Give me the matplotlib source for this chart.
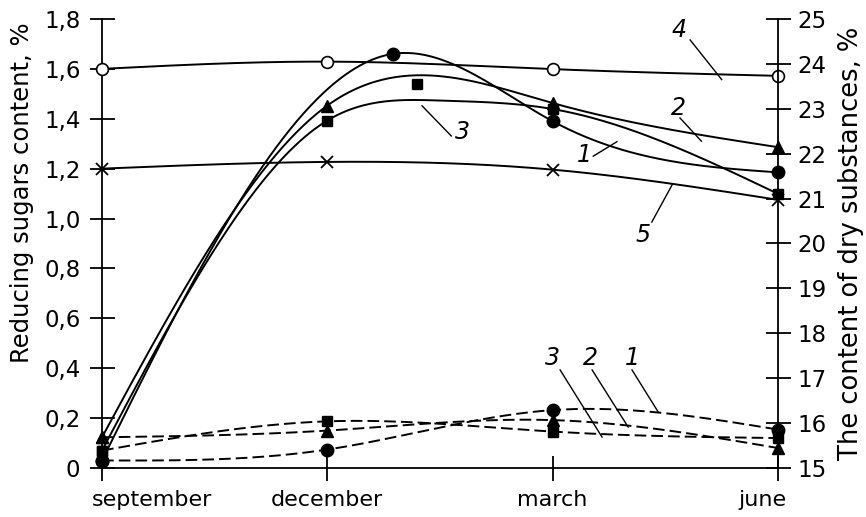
import numpy as np
import matplotlib
matplotlib.use("Agg")
import matplotlib.pyplot as plt
from matplotlib.transforms import offset_copy


# ---------------- DATA ----------------
months = ["september", "december", "march", "june"]
month_pos = [0, 1, 2, 3]

# solid curves (1, 2, 3): position in months, value on the left scale
solid1_x = [0, 1.29, 2, 3]
solid1_y = [0.03, 1.66, 1.39, 1.185]
solid2_x = [0, 1, 1.35, 2, 3]
solid2_y = [0.123, 1.453, 1.572, 1.463, 1.286]
solid2_mark = [True, True, False, True, True]
solid3_x = [0, 1, 1.5, 2, 3]
solid3_y = [0.07, 1.393, 1.473, 1.439, 1.099]
solid3_mark = [True, True, False, True, True]
extra_square_x = [1.40]
extra_square_y = [1.539]

# curves 4 and 5
curve4_y = [1.60, 1.629, 1.599, 1.572]
curve5_y = [1.20, 1.227, 1.196, 1.075]

# dashed curves (1, 2, 3)
dash1_y = [0.030, 0.074, 0.232, 0.154]
dash2_y = [0.123, 0.150, 0.192, 0.080]
dash3_y = [0.070, 0.187, 0.146, 0.120]

left_ticks = [0, 0.2, 0.4, 0.6, 0.8, 1.0, 1.2, 1.4, 1.6, 1.8]
left_labels = ["0", "0,2", "0,4", "0,6", "0,8", "1,0", "1,2", "1,4", "1,6", "1,8"]
right_ticks = list(range(15, 26))

# curve numbers: (text, text x, text y, leader start, leader end)
labels = [
    ("4", 2.56, 1.756, (2.61, 1.716), (2.75, 1.557)),
    ("2", 2.56, 1.443, (2.565, 1.403), (2.66, 1.31)),
    ("1", 2.14, 1.255, (2.18, 1.25), (2.285, 1.308)),
    ("5", 2.40, 0.934, (2.44, 0.986), (2.53, 1.135)),
    ("3", 1.60, 1.345, (1.42, 1.452), (1.55, 1.331)),
    ("3", 2.00, 0.441, (2.033, 0.393), (2.219, 0.124)),
    ("2", 2.166, 0.441, (2.175, 0.393), (2.335, 0.164)),
    ("1", 2.352, 0.441, (2.352, 0.393), (2.468, 0.225)),
]


# ---------------- SMOOTH LINE THROUGH POINTS ----------------
def spline(xs, ys, num=300):
    xs = np.asarray(xs, float)
    ys = np.asarray(ys, float)
    n = len(xs)
    h = np.diff(xs)
    A = np.zeros((n, n))
    b = np.zeros(n)
    A[0, 0] = A[-1, -1] = 1
    for i in range(1, n - 1):
        A[i, i - 1] = h[i - 1]
        A[i, i] = 2 * (h[i - 1] + h[i])
        A[i, i + 1] = h[i]
        b[i] = 6 * ((ys[i + 1] - ys[i]) / h[i] - (ys[i] - ys[i - 1]) / h[i - 1])
    M = np.linalg.solve(A, b)
    xx = np.linspace(xs[0], xs[-1], num)
    k = np.clip(np.searchsorted(xs, xx) - 1, 0, n - 2)
    hh = xs[k + 1] - xs[k]
    t0 = xs[k + 1] - xx
    t1 = xx - xs[k]
    yy = (M[k] * t0 ** 3 + M[k + 1] * t1 ** 3) / (6 * hh) \
        + (ys[k] / hh - M[k] * hh / 6) * t0 + (ys[k + 1] / hh - M[k + 1] * hh / 6) * t1
    return xx, yy


# ---------------- FIGURE ----------------
plt.rcParams["font.family"] = ["DejaVu Sans"]
plt.rcParams["font.size"] = 16

fig = plt.figure(figsize=(8.66, 5.17), dpi=100)
ax = fig.add_axes([0.1178, 0.0948, 0.7806, 0.8685])
ax2 = ax.twinx()

LW = 1.4
dash = (0, (6, 2.6))

def line(xs, ys, style="-"):
    sx, sy = spline(xs, ys)
    ax.plot(sx, sy, color="black", lw=LW, linestyle=style, clip_on=False, zorder=3)

def keep(vals, marks):
    return [v for v, m in zip(vals, marks) if m]

# solid curves
line(solid1_x, solid1_y)
line(solid2_x, solid2_y)
line(solid3_x, solid3_y)
line(month_pos, curve4_y)
line(month_pos, curve5_y)

# dashed curves
line(month_pos, dash1_y, dash)
line(month_pos, dash2_y, dash)
line(month_pos, dash3_y, dash)

# markers
mk = dict(color="black", linestyle="none", clip_on=False, zorder=4)
ax.plot(solid1_x, solid1_y, marker="o", ms=9, **mk)
ax.plot(keep(solid2_x, solid2_mark), keep(solid2_y, solid2_mark), marker="^", ms=8, **mk)
ax.plot(keep(solid3_x, solid3_mark), keep(solid3_y, solid3_mark), marker="s", ms=7.5, **mk)
ax.plot(extra_square_x, extra_square_y, marker="s", ms=7.5, **mk)
ax.plot(month_pos, curve4_y, marker="o", ms=8.5, mfc="white", mew=1.2, **mk)
ax.plot(month_pos, curve5_y, marker="x", ms=9, mew=1.3, **mk)
ax.plot(month_pos, dash1_y, marker="o", ms=9, **mk)
ax.plot(month_pos, dash2_y, marker="^", ms=8, **mk)
ax.plot(month_pos, dash3_y, marker="s", ms=7.5, **mk)

# curve numbers with leader lines
for txt, tx, ty, p0, p1 in labels:
    ax.plot([p0[0], p1[0]], [p0[1], p1[1]], color="black", lw=1.0, zorder=2)
    ax.text(tx, ty, txt, style="italic", fontsize=17, ha="center", va="center")

# ---------------- AXES ----------------
ax.set_xlim(0, 3)
ax.set_ylim(0, 1.8)
ax2.set_ylim(15, 25)

ax.set_xticks(month_pos)
ax.set_xticklabels(months)
ax.set_yticks(left_ticks)
ax.set_yticklabels(left_labels)
ax2.set_yticks(right_ticks)

for a in (ax, ax2):
    a.spines["top"].set_visible(False)
    for s in a.spines.values():
        s.set_linewidth(1.3)
ax2.spines["left"].set_visible(False)
ax2.spines["bottom"].set_visible(False)
ax.spines["right"].set_visible(False)

ax.tick_params(axis="y", direction="inout", length=18, width=1.3, pad=6.5, labelsize=16.5)
ax.tick_params(axis="x", direction="inout", length=18, width=1.3, pad=7, labelsize=16)
ax2.tick_params(axis="y", direction="inout", length=18, width=1.3, pad=5, labelsize=16.5)

xl = ax.get_xticklabels()
xl[0].set_ha("left")
xl[0].set_transform(offset_copy(xl[0].get_transform(), fig=fig, x=-10, units="dots"))
xl[-1].set_ha("right")
xl[-1].set_transform(offset_copy(xl[-1].get_transform(), fig=fig, x=8, units="dots"))

fig.text(22 / 866, 1 - 193 / 517, "Reducing sugars content, %", rotation=90,
         ha="center", va="center", fontsize=17.5)
fig.text(851 / 866, 1 - 243 / 517, "The content of dry substances, %", rotation=90,
         ha="center", va="center", fontsize=18.5)

fig.savefig("out.png", dpi=100)
